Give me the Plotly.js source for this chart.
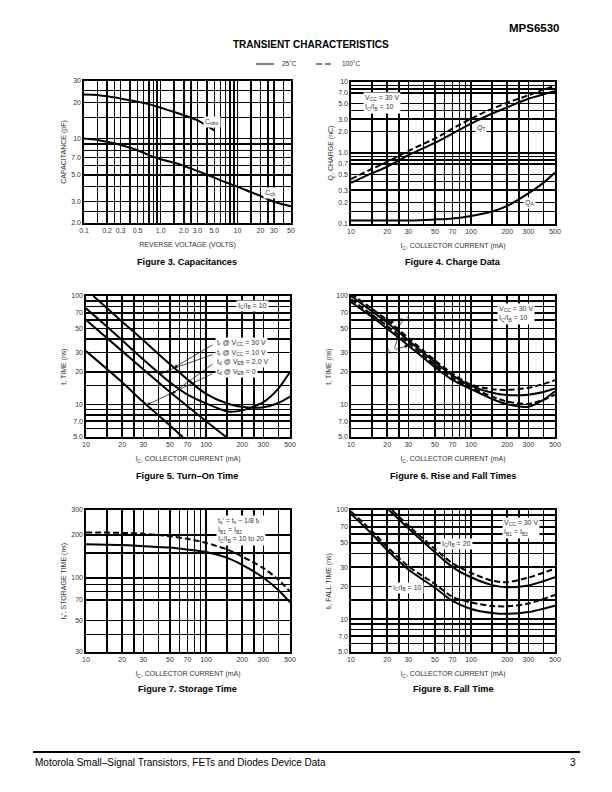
<!DOCTYPE html>
<html><head><meta charset="utf-8">
<script src="https://cdn.plot.ly/plotly-3.0.1.min.js"></script>
<style>html,body{margin:0;padding:0;background:#fff;}#chart{width:612px;height:792px;}</style>
</head><body><div id="chart"></div>
<script>
// ---------------- DATA ----------------
// Figure 3 – Capacitances
const fig3CoboVolts = [0.1, 0.15, 0.2, 0.3, 0.5, 0.7, 1, 1.5, 2, 2.4, 3, 5];
const fig3CoboPF    = [23.2, 23.0, 22.4, 21.5, 20.2, 19.3, 18.0, 16.6, 15.6, 15.0, 14.2, 11.7];
const fig3CcbVolts  = [0.1, 0.15, 0.2, 0.3, 0.5, 0.7, 1, 1.5, 2, 3, 5, 7, 10, 15, 20, 30, 50];
const fig3CcbPF     = [10, 9.75, 9.4, 8.85, 8.0, 7.3, 6.75, 6.3, 5.95, 5.4, 4.75, 4.35, 4.0, 3.6, 3.35, 3.0, 2.75];
// Figure 4 – Charge data
const fig4IcMA      = [10, 15, 20, 30, 50, 70, 100, 150, 200, 300, 400, 500];
const fig4QT25nC    = [0.38, 0.52, 0.64, 0.93, 1.39, 1.88, 2.6, 3.6, 4.4, 5.8, 6.7, 7.4];
const fig4QT100nC   = [0.43, 0.6, 0.75, 1.07, 1.6, 2.2, 3.05, 4.2, 5.1, 6.5, 7.8, 8.8];
const fig4QAnC      = [0.112, 0.112, 0.112, 0.112, 0.116, 0.12, 0.13, 0.15, 0.18, 0.27, 0.38, 0.53];
// Figure 5 – Turn-on time
const fig5Tr30IcMA  = [11.5, 15, 20, 30, 50, 70, 100, 150, 200, 250, 300, 400, 500];
const fig5Tr30ns    = [100, 77, 58, 39, 23.5, 17, 12.5, 10.2, 9.5, 9.3, 9.4, 10.3, 11.8];
const fig5Tr10IcMA  = [10, 15, 20, 30, 50, 70, 100, 150, 200, 300, 400, 500];
const fig5Tr10ns    = [77, 52, 39, 26, 16, 12.3, 10.2, 8.6, 8.8, 10.5, 14, 19.9];
const fig5Td2IcMA   = [10, 20, 50, 100, 147];
const fig5Td2ns     = [60, 31, 13, 7, 5];
const fig5Td0IcMA   = [10, 20, 30, 50, 64];
const fig5Td0ns     = [31, 16, 10.5, 6.4, 5.0];
// Figure 6 – Rise and fall times
const fig6IcMA      = [10, 15, 20, 30, 50, 70, 100, 150, 200, 300, 400, 500];
const fig6Tr25ns    = [100, 72, 57, 39, 24.5, 18.5, 14.8, 12.8, 12.2, 12.3, 13.0, 14.0];
const fig6Tr100ns   = [105, 76, 60, 41, 25.5, 19.2, 15.2, 13.8, 13.6, 14.2, 15.4, 16.7];
const fig6Tf25ns    = [88, 64, 50, 35, 22, 16.8, 13.8, 11.2, 10.0, 9.5, 11.0, 13.2];
const fig6Tf100ns   = [93, 67, 53, 37, 23.2, 17.6, 14.3, 11.8, 10.6, 10.1, 11.0, 12.3];
// Figure 7 – Storage time
const fig7IcMA      = [10, 15, 20, 30, 50, 70, 100, 150, 200, 300, 400, 500];
const fig7Ts25ns    = [172, 171, 170, 167, 163, 158, 152, 138, 123, 100, 82, 67];
const fig7Ts100ns   = [208, 208, 207, 204, 196, 188, 176, 158, 141, 117, 97, 80];
// Figure 8 – Fall time
const fig8Ib20IcMA  = [20.7, 30, 50, 70, 100, 150, 200, 300, 500];
const fig8Ib20Tf25  = [100, 68, 41, 30, 24.2, 20.5, 19.6, 20.3, 24.2];
const fig8Ib20IcMAd = [22, 30, 50, 70, 100, 150, 200, 300, 500];
const fig8Ib20Tf100 = [100, 72, 44, 32.5, 26.5, 22.5, 21.8, 24, 29];
const fig8Ib10IcMA  = [10, 15, 20, 30, 50, 70, 100, 150, 200, 300, 500];
const fig8Ib10Tf25  = [92, 60, 43, 28.5, 19.4, 14.7, 12.4, 11.4, 11.2, 11.6, 13.3];
const fig8Ib10Tf100 = [97, 64, 46, 30.5, 21, 16, 14.2, 13.2, 13.1, 13.9, 16.7];

// ---------------- AXES: ranges, grid values, tick labels ----------------
const capVoltRange = [0.1, 50];
const capVoltGrid  = [0.1,0.15,0.2,0.25,0.3,0.4,0.5,0.6,0.7,0.8,0.9,1,1.5,2,2.5,3,4,5,6,7,8,9,10,15,20,25,30,40,50];
const capVoltTicks = ['0.1','0.2','0.3','0.5','1.0','2.0','3.0','5.0','10','20','30','50'];
const capRange     = [2, 30];
const capGrid      = [2,2.5,3,4,5,6,7,8,9,10,15,20,25,30];
const capTicks     = ['2.0','3.0','5.0','7.0','10','20','30'];
const icRange      = [10, 500];
const icGrid       = [10,15,20,25,30,40,50,60,70,80,90,100,150,200,250,300,400,500];
const icTicks      = ['10','20','30','50','70','100','200','300','500'];
const chargeRange  = [0.1, 10];
const chargeGrid   = [0.1,0.15,0.2,0.3,0.4,0.5,0.7,0.8,0.9,1,2,3,4,5,7,8,9,10];
const chargeTicks  = ['0.1','0.2','0.3','0.5','0.7','1.0','2.0','3.0','5.0','7.0','10'];
const timeRange    = [5, 100];
const timeGrid     = [5,6,7,8,9,10,15,20,30,40,50,60,70,80,90,100];
const timeTicks    = ['5.0','7.0','10','20','30','50','70','100'];
const stoRange     = [30, 300];
const stoGrid      = [30,40,50,70,80,90,100,150,200,300];
const stoTicks     = ['30','50','70','100','200','300'];

// ---------------- LAYOUT HELPERS ----------------
const W = 612, H = 792;
const FONT = 'Liberation Sans, Arial, Helvetica, sans-serif';
const INK = '#000', TXT = '#333';
const X = px => px / W, Y = py => 1 - py / H;

const panels = {
  p3: {xa:'x',  ya:'y',  xk:'xaxis',  yk:'yaxis',  l:84,  r:291, t:81,  b:223, xr:capVoltRange, yr:capRange},
  p4: {xa:'x2', ya:'y2', xk:'xaxis2', yk:'yaxis2', l:351, r:555, t:82,  b:224, xr:icRange, yr:chargeRange},
  p5: {xa:'x3', ya:'y3', xk:'xaxis3', yk:'yaxis3', l:86,  r:290, t:296, b:437, xr:icRange, yr:timeRange},
  p6: {xa:'x4', ya:'y4', xk:'xaxis4', yk:'yaxis4', l:351, r:555, t:296, b:437, xr:icRange, yr:timeRange},
  p7: {xa:'x5', ya:'y5', xk:'xaxis5', yk:'yaxis5', l:86,  r:290, t:510, b:652, xr:icRange, yr:stoRange},
  p8: {xa:'x6', ya:'y6', xk:'xaxis6', yk:'yaxis6', l:351, r:555, t:510, b:652, xr:icRange, yr:timeRange},
};

const GRIDW = 1.5;
function axis(grid, labels, extra) {
  const vals = labels.map(parseFloat);
  const minorVals = grid.filter(v => !vals.some(l => Math.abs(l - v) < 1e-9));
  return Object.assign({
    type:'log', tickmode:'array', tickvals:vals, ticktext:labels,
    showgrid:true, gridcolor:INK, gridwidth:GRIDW,
    minor:{tickmode:'array', tickvals:minorVals, showgrid:true, gridcolor:INK, gridwidth:GRIDW, ticks:''},
    showline:true, mirror:true, linecolor:INK, linewidth:1.6, ticks:'', zeroline:false,
    tickfont:{family:FONT, size:7, color:TXT}, fixedrange:true
  }, extra);
}
const layout = {
  width:W, height:H, margin:{l:0,r:0,t:0,b:0}, paper_bgcolor:'#fff', plot_bgcolor:'#fff',
  showlegend:false, font:{family:FONT, color:TXT}, annotations:[], shapes:[]
};
function setupPanel(p, xgrid, xlabels, ygrid, ylabels, xtitle, ytitle) {
  layout[p.xk] = axis(xgrid, xlabels, {domain:[X(p.l), X(p.r)], anchor:p.ya, range:p.xr.map(Math.log10),
    title:{text:xtitle, font:{family:FONT, size:7, color:TXT}, standoff:9}});
  layout[p.yk] = axis(ygrid, ylabels, {domain:[Y(p.b), Y(p.t)], anchor:p.xa, range:p.yr.map(Math.log10),
    title:{text:ytitle, font:{family:FONT, size:7, color:TXT}, standoff:4}});
}
const IC_TITLE = 'I<sub>C</sub>, COLLECTOR CURRENT (mA)';
setupPanel(panels.p3, capVoltGrid, capVoltTicks, capGrid, capTicks, 'REVERSE VOLTAGE (VOLTS)', 'CAPACITANCE (pF)');
setupPanel(panels.p4, icGrid, icTicks, chargeGrid, chargeTicks, IC_TITLE, 'Q, CHARGE (nC)');
setupPanel(panels.p5, icGrid, icTicks, timeGrid, timeTicks, IC_TITLE, 't, TIME (ns)');
setupPanel(panels.p6, icGrid, icTicks, timeGrid, timeTicks, IC_TITLE, 't, TIME (ns)');
setupPanel(panels.p7, icGrid, icTicks, stoGrid, stoTicks, IC_TITLE, 't<sub>s</sub>′, STORAGE TIME (ns)');
setupPanel(panels.p8, icGrid, icTicks, timeGrid, timeTicks, IC_TITLE, 't<sub>f</sub>, FALL TIME (ns)');

// ---------------- TRACES ----------------
const DASH = '6px,3px';
function curve(p, x, y, dashed, name) {
  return {x, y, name, xaxis:p.xa, yaxis:p.ya, type:'scatter', mode:'lines', hoverinfo:'skip',
    line:{color:INK, width:2, shape:'spline', smoothing:0.7, dash: dashed ? DASH : 'solid'}};
}
const P = panels;
const data = [
  curve(P.p3, fig3CoboVolts, fig3CoboPF, false, 'Cobo'),
  curve(P.p3, fig3CcbVolts, fig3CcbPF, false, 'Ccb'),
  curve(P.p4, fig4IcMA, fig4QT100nC, true, 'QT 100°C'),
  curve(P.p4, fig4IcMA, fig4QT25nC, false, 'QT 25°C'),
  curve(P.p4, fig4IcMA, fig4QAnC, false, 'QA'),
  curve(P.p5, fig5Tr30IcMA, fig5Tr30ns, false, 'tr @ VCC = 30 V'),
  curve(P.p5, fig5Tr10IcMA, fig5Tr10ns, false, 'tr @ VCC = 10 V'),
  curve(P.p5, fig5Td2IcMA, fig5Td2ns, false, 'td @ VEB = 2.0 V'),
  curve(P.p5, fig5Td0IcMA, fig5Td0ns, false, 'td @ VEB = 0'),
  curve(P.p6, fig6IcMA, fig6Tr100ns, true, 'tr 100°C'),
  curve(P.p6, fig6IcMA, fig6Tr25ns, false, 'tr 25°C'),
  curve(P.p6, fig6IcMA, fig6Tf100ns, true, 'tf 100°C'),
  curve(P.p6, fig6IcMA, fig6Tf25ns, false, 'tf 25°C'),
  curve(P.p7, fig7IcMA, fig7Ts100ns, true, 'ts 100°C'),
  curve(P.p7, fig7IcMA, fig7Ts25ns, false, 'ts 25°C'),
  curve(P.p8, fig8Ib20IcMAd, fig8Ib20Tf100, true, 'IC/IB=20 100°C'),
  curve(P.p8, fig8Ib20IcMA, fig8Ib20Tf25, false, 'IC/IB=20 25°C'),
  curve(P.p8, fig8Ib10IcMA, fig8Ib10Tf100, true, 'IC/IB=10 100°C'),
  curve(P.p8, fig8Ib10IcMA, fig8Ib10Tf25, false, 'IC/IB=10 25°C'),
];

// ---------------- TEXT ----------------
const A = layout.annotations;
function text(px, py, t, o) {
  A.push(Object.assign({xref:'paper', yref:'paper', x:X(px), y:Y(py), text:t, showarrow:false,
    xanchor:'center', yanchor:'middle', font:{family:FONT, size:7, color:TXT}}, o || {}));
}
function boxed(px, py, t, o) {
  text(px, py, t, Object.assign({bgcolor:'#fff', borderpad:1, align:'left'}, o || {}));
}
// log-log reading of a curve at x (for pointing arrows onto a drawn curve)
function readCurve(xs, ys, x) {
  for (let i = 0; i < xs.length - 1; i++) {
    if (x >= xs[i] && x <= xs[i+1]) {
      const f = (Math.log10(x) - Math.log10(xs[i])) / (Math.log10(xs[i+1]) - Math.log10(xs[i]));
      return Math.pow(10, Math.log10(ys[i]) + f * (Math.log10(ys[i+1]) - Math.log10(ys[i])));
    }
  }
  return ys[ys.length - 1];
}
function toPx(p, x, y) {
  const fx = (Math.log10(x) - Math.log10(p.xr[0])) / (Math.log10(p.xr[1]) - Math.log10(p.xr[0]));
  const fy = (Math.log10(y) - Math.log10(p.yr[0])) / (Math.log10(p.yr[1]) - Math.log10(p.yr[0]));
  return [p.l + fx * (p.r - p.l), p.b - fy * (p.b - p.t)];
}
function arrow(p, xs, ys, x, tailPx, tailPy) {
  const y = readCurve(xs, ys, x);
  const tip = toPx(p, x, y);
  A.push({xref:p.xa, yref:p.ya, x:Math.log10(x), y:Math.log10(y), text:'', showarrow:true,
    ax:tailPx - tip[0], ay:tailPy - tip[1], arrowhead:2, arrowsize:1, arrowwidth:0.7, arrowcolor:INK});
}

// header
text(562, 28, '<b>MPS6530</b>', {xanchor:'right', font:{family:FONT, size:11.5, color:'#000'}});
text(311, 44, '<b>TRANSIENT CHARACTERISTICS</b>', {font:{family:FONT, size:10, color:'#000'}});
text(280, 64, '25°C', {xanchor:'left', font:{family:FONT, size:6.5, color:TXT}});
text(340, 64, '100°C', {xanchor:'left', font:{family:FONT, size:6.5, color:TXT}});
layout.shapes.push({type:'line', xref:'paper', yref:'paper', x0:X(256), x1:X(274), y0:Y(64), y1:Y(64), line:{color:INK, width:1}});
layout.shapes.push({type:'line', xref:'paper', yref:'paper', x0:X(316), x1:X(334), y0:Y(64), y1:Y(64), line:{color:INK, width:1, dash:'6px,3px'}});

// captions
const CAP = {family:FONT, size:9.2, color:'#000'};
text(187, 262, '<b>Figure 3. Capacitances</b>', {font:CAP});
text(453, 262, '<b>Figure 4. Charge Data</b>', {font:CAP});
text(187, 476, '<b>Figure 5. Turn–On Time</b>', {font:CAP});
text(453, 476, '<b>Figure 6. Rise and Fall Times</b>', {font:CAP});
text(187, 689, '<b>Figure 7. Storage Time</b>', {font:CAP});
text(453, 689, '<b>Figure 8. Fall Time</b>', {font:CAP});

// footer
layout.shapes.push({type:'line', xref:'paper', yref:'paper', x0:X(33), x1:X(580), y0:Y(752), y1:Y(752), line:{color:INK, width:2}});
text(33, 762, 'Motorola Small–Signal Transistors, FETs and Diodes Device Data', {xanchor:'left', font:{family:FONT, size:10, color:'#000'}});
text(578, 762, '3', {xanchor:'right', font:{family:FONT, size:10, color:'#000'}});

// Figure 3 labels
boxed(212, 122, 'C<sub>obo</sub>');
boxed(270, 193, 'C<sub>cb</sub>');
// Figure 4 labels
boxed(363, 103, 'V<sub>CC</sub> = 30 V<br>I<sub>C</sub>/I<sub>B</sub> = 10', {xanchor:'left'});
boxed(481, 128, 'Q<sub>T</sub>');
boxed(529, 203, 'Q<sub>A</sub>');
// Figure 5 labels + arrows
boxed(252, 306, 'I<sub>C</sub>/I<sub>B</sub> = 10');
boxed(215, 343, 't<sub>r</sub> @ V<sub>CC</sub> = 30 V', {xanchor:'left'});
boxed(215, 353, 't<sub>r</sub> @ V<sub>CC</sub> = 10 V', {xanchor:'left'});
boxed(215, 362, 't<sub>d</sub> @ V<sub>EB</sub> = 2.0 V', {xanchor:'left'});
boxed(215, 372, 't<sub>d</sub> @ V<sub>EB</sub> = 0', {xanchor:'left'});
arrow(P.p5, fig5Tr30IcMA, fig5Tr30ns, 54, 214, 344);
arrow(P.p5, fig5Tr10IcMA, fig5Tr10ns, 41, 214, 354);
arrow(P.p5, fig5Td2IcMA, fig5Td2ns, 52, 214, 363);
arrow(P.p5, fig5Td0IcMA, fig5Td0ns, 32, 214, 373);
// Figure 6 labels + arrows
boxed(497, 314, 'V<sub>CC</sub> = 30 V<br>I<sub>C</sub>/I<sub>B</sub> = 10', {xanchor:'left'});
text(409, 319, 't<sub>r</sub>');
text(389, 351, 't<sub>f</sub>');
arrow(P.p6, fig6IcMA, fig6Tr100ns, 21, 404, 318);
arrow(P.p6, fig6IcMA, fig6Tr25ns, 24, 404, 318);
arrow(P.p6, fig6IcMA, fig6Tf100ns, 25, 394, 350);
arrow(P.p6, fig6IcMA, fig6Tf25ns, 30, 394, 350);
// Figure 7 label
boxed(216, 530, 't<sub>s</sub>′ = t<sub>s</sub> − 1/8 t<sub>f</sub><br>I<sub>B1</sub> = I<sub>B2</sub><br>I<sub>C</sub>/I<sub>B</sub> = 10 to 20', {xanchor:'left'});
// Figure 8 labels
boxed(502, 528, 'V<sub>CC</sub> = 30 V<br>I<sub>B1</sub> = I<sub>B2</sub>', {xanchor:'left'});
boxed(456, 544, 'I<sub>C</sub>/I<sub>B</sub> = 20');
boxed(407, 588, 'I<sub>C</sub>/I<sub>B</sub> = 10');

Plotly.newPlot('chart', data, layout, {staticPlot:true, displayModeBar:false});
</script></body></html>
